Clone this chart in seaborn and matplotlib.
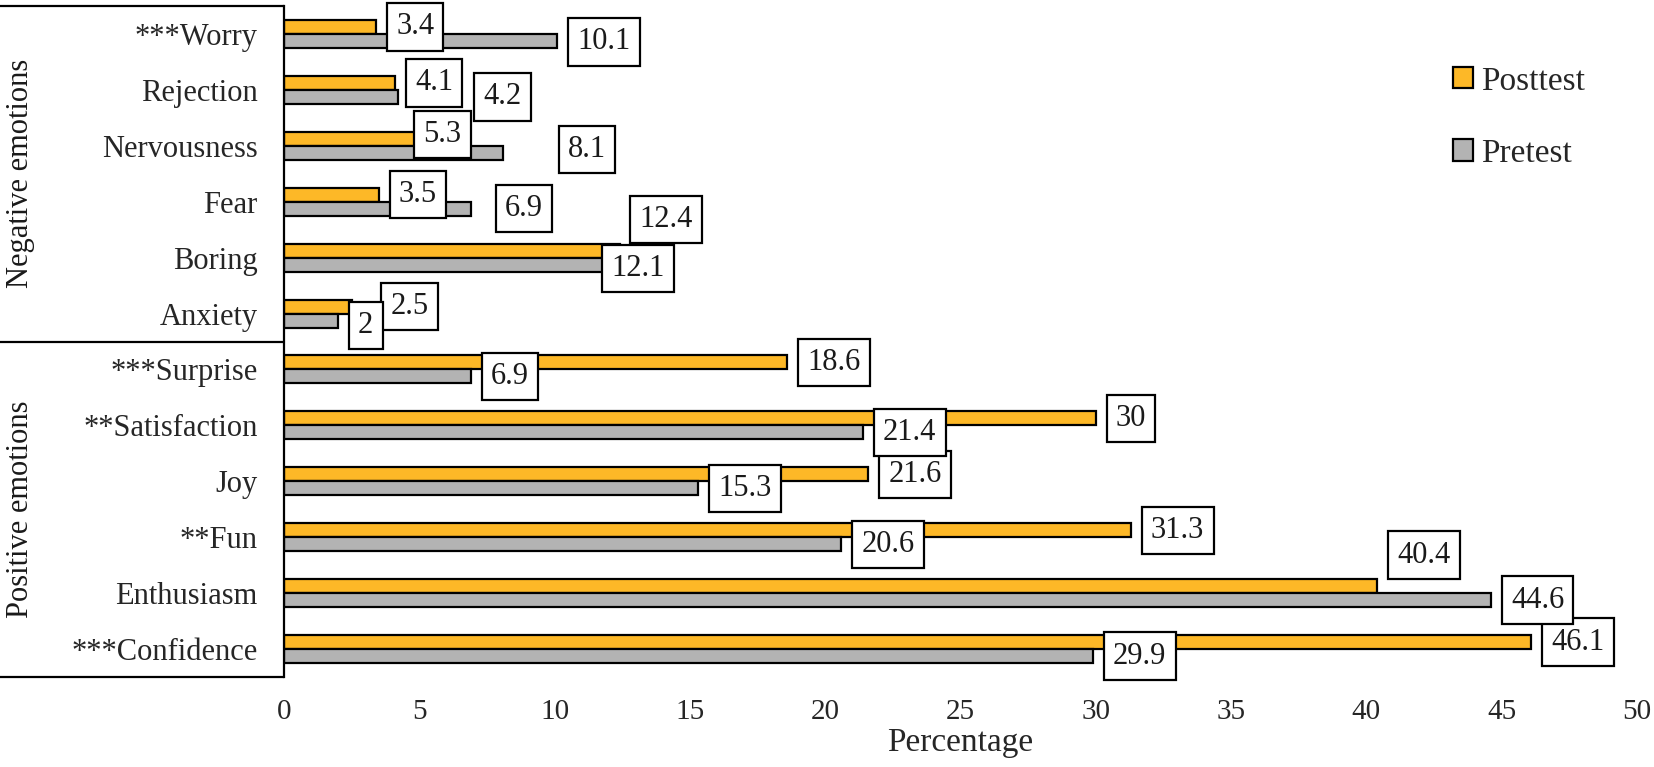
import matplotlib
matplotlib.use("Agg")
import matplotlib.pyplot as plt
import seaborn as sns
import pandas as pd
from matplotlib.lines import Line2D

# ---- data ----
categories = ["***Worry", "Rejection", "Nervousness", "Fear", "Boring", "Anxiety",
              "***Surprise", "**Satisfaction", "Joy", "**Fun", "Enthusiasm", "***Confidence"]
posttest = [3.4, 4.1, 5.3, 3.5, 12.4, 2.5, 18.6, 30, 21.6, 31.3, 40.4, 46.1]
pretest = [10.1, 4.2, 8.1, 6.9, 12.1, 2, 6.9, 21.4, 15.3, 20.6, 44.6, 29.9]
series = ["Posttest", "Pretest"]
groups = ["Negative emotions", "Positive emotions"]
xticks = [0, 5, 10, 15, 20, 25, 30, 35, 40, 45, 50]

# ---- label nudges (pixels; style only) ----
post_dx = [0, 0, -24, 0, 0, 19, 0, 0, 0, 0, 0, 0]
post_dy = [0, 0, -4, 0, -31, 0, 0, 0, 0, 0, -31, 0]
pre_dx = [0, 66, 45, 14, -20, 0, 0, 0, 0, 0, 0, 0]
pre_dy = [1, 0, -3, 0, 4, 5, 0, 0, 0, 0, 0, 0]

df = pd.DataFrame({
    "Emotion": categories * 2,
    "Series": [series[0]] * len(categories) + [series[1]] * len(categories),
    "Percentage": posttest + pretest,
})

sns.set_theme(style="white")
plt.rcParams["font.family"] = ["Liberation Serif", "DejaVu Serif"]

W, H = 1654, 767
fig = plt.figure(figsize=(W / 100, H / 100), dpi=100)
ax_l, ax_r, ax_t, ax_b = 284, 1637, 6, 677
ax = fig.add_axes([ax_l / W, 1 - ax_b / H, (ax_r - ax_l) / W, (ax_b - ax_t) / H])

colors = {"Posttest": "#FDB827", "Pretest": "#B3B3B3"}
sns.barplot(data=df, y="Emotion", x="Percentage", hue="Series", order=categories,
            hue_order=series, palette=colors, width=0.5, edgecolor="black",
            linewidth=1.6, orient="h", ax=ax, legend=True, saturation=1)

ax.set_xlim(0, 50)
ax.set_xticks(xticks)
ax.set_xticklabels([str(t) for t in xticks], fontsize=21)
ax.tick_params(axis="x", length=0, pad=16)
ax.tick_params(axis="y", length=0, pad=19, labelsize=22)
ax.set_ylabel("")
ax.set_xlabel("Percentage", fontsize=24, labelpad=2)
for s in ["top", "right", "bottom"]:
    ax.spines[s].set_visible(False)
ax.spines["left"].set_linewidth(1.6)
ax.spines["left"].set_color("black")

# data labels
offs = [(post_dx, post_dy), (pre_dx, pre_dy)]
for cont, (dxs, dys) in zip(ax.containers, offs):
    for i, p in enumerate(cont.patches):
        v = p.get_width()
        yc = p.get_y() + p.get_height() / 2
        txt = f"{v:g}"
        ax.annotate(txt, xy=(v, yc), xytext=(20 + dxs[i], -dys[i]),
                    textcoords="offset pixels", ha="left", va="center",
                    fontsize=22, color="#1a1a1a", zorder=5,
                    bbox=dict(boxstyle="square,pad=0.3", fc="white", ec="black", lw=1.6))

# group boxes on the left
trans = ax.get_yaxis_transform()
x0 = -ax_l / (ax_r - ax_l)
n = len(categories)
div = 5.5
for yy in [-0.5, div, n - 0.5]:
    ax.add_line(Line2D([x0, 0], [yy, yy], transform=trans, color="black",
                       lw=1.6, clip_on=False))
xg = (21 - ax_l) / (ax_r - ax_l)
ax.text(xg, (-0.5 + div) / 2, groups[0], transform=trans, rotation=90,
        ha="center", va="center", fontsize=22, color="#1a1a1a")
ax.text(xg, (div + n - 0.5) / 2, groups[1], transform=trans, rotation=90,
        ha="center", va="center", fontsize=22, color="#1a1a1a")

# legend
leg = ax.get_legend()
handles = leg.legend_handles
leg.remove()
fig.legend(handles, series, loc="upper left",
           bbox_to_anchor=(1453 / W, 1 - 66 / H), frameon=False, fontsize=24,
           handlelength=0.6, handleheight=0.6, handletextpad=0.25,
           labelspacing=1.25, borderpad=0, borderaxespad=0)

fig.savefig("out.png", dpi=100)
